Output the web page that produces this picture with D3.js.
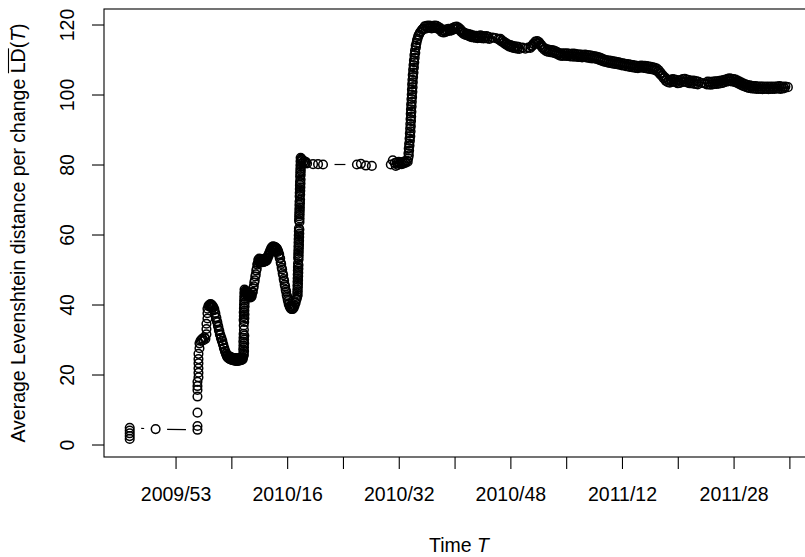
<!DOCTYPE html>
<html>
<head>
<meta charset="utf-8">
<script src="https://cdn.jsdelivr.net/npm/d3@7"></script>
<style>
  body { margin: 0; background: #fff; }
  svg text { font-family: "Liberation Sans", Arial, Helvetica, sans-serif; font-size: 19.5px; fill: #000; }
</style>
</head>
<body>
<svg id="chart" width="805" height="557"></svg>
<script>
// T is counted in days from the start of week 2009/53
const tickDays   = [0, 56, 112, 168, 224, 280, 336, 392, 448, 504, 560, 616];
const tickLabels = ["2009/53", "", "2010/16", "", "2010/32", "", "2010/48", "", "2011/12", "", "2011/28", ""];
const yTicks     = [0, 20, 40, 60, 80, 100, 120];

// sparse readings as [day, average LD]
const firstWeeks = [
  [-46, 1.6], [-46, 2.4], [-46, 3.2], [-46, 4.0], [-46, 4.8],
  [-20, 4.4],
  [22, 4.2], [22, 5.3], [22, 9.1], [22, 13.7], [22, 15.6], [22, 16.7], [22, 17.9], [23, 19.2], [23, 20.5],
  [23, 21.8], [23, 23.2], [23, 24.4], [23, 25.9], [24, 27.5], [24, 28.9],
  [25, 29.6], [26, 29.9], [27, 30.3], [28, 29.8], [29, 30.6], [30, 30.2],
  [31, 31.5], [31, 33.0], [31, 34.5], [32, 36.0], [32, 37.5], [32, 38.8], [33, 39.6]
];

// half-day readings: first value belongs to the start day
const dipStart = 34;
const dipLD = [
  39.9, 39.3, 40.1, 39.5, 40.0, 39.2, 39.7, 39.0, 39.3, 38.4,
  38.6, 37.6, 37.5, 36.4, 36.2, 35.2, 34.9, 34.0, 33.6, 32.7,
  32.4, 31.5, 31.3, 30.4, 30.5, 29.6, 29.6, 28.7, 28.5, 27.6,
  27.5, 26.7, 26.6, 25.9, 26.0, 25.2, 25.6, 24.8, 25.3, 24.6,
  25.2, 24.4, 25.0, 24.3, 24.9, 24.2, 24.8, 24.1, 24.7, 24.0,
  24.7, 24.0, 24.6, 23.9, 24.6, 23.9, 24.5, 23.9, 24.6, 24.0,
  24.6, 24.0, 24.7, 24.1, 24.8, 24.2, 24.8, 24.4
];

const climbA = [
  [67.8, 25.0], [68.6, 25.6], [68.0, 26.1], [68.8, 26.7], [67.9, 27.2], [68.7, 27.8], [68.1, 28.3], [68.9, 28.9],
  [68.0, 29.4], [68.8, 30.0], [68.2, 30.5], [69.0, 31.1], [68.3, 31.6], [68.6, 32.8], [68.4, 34.0], [68.9, 35.0],
  [68.3, 35.6], [69.1, 36.1], [68.5, 36.7], [69.2, 37.2], [68.4, 37.8], [69.1, 38.3], [68.6, 38.9], [69.3, 39.4],
  [68.7, 40.0], [69.4, 40.5], [68.8, 41.1], [69.5, 41.6], [68.9, 42.2], [69.6, 42.7], [69.0, 43.3], [69.7, 43.8],
  [69.2, 44.3]
];

const humpStart = 70;
const humpLD = [
  44.0, 43.2, 43.7, 42.9, 43.4, 42.6, 43.1, 42.3, 42.9, 42.1,
  42.7, 42.0, 42.8, 42.4, 43.4, 43.6, 44.6, 45.2, 46.3, 46.9,
  48.0, 48.6, 49.7, 50.3, 51.4, 51.8, 52.8, 52.2, 53.1, 52.3,
  53.0, 52.2, 53.0, 52.2, 52.9, 52.1, 53.0, 52.2, 53.0, 52.3,
  53.1, 52.4, 53.2, 52.6, 53.5, 53.3, 54.1, 54.0, 54.8, 54.7,
  55.5, 55.3, 56.1, 55.7, 56.5, 55.8, 56.6, 55.9, 56.5, 55.8,
  56.4, 55.6, 56.2, 55.4, 55.9, 55.0, 55.3, 54.3, 54.4, 53.3,
  53.2, 52.0, 51.6, 50.5, 50.0, 48.9, 48.4, 47.3, 46.8, 45.7,
  45.2, 44.2, 43.7, 42.7, 42.3, 41.4, 41.0, 40.2, 40.1, 39.4,
  39.6, 38.9, 39.4, 38.7, 39.3, 38.7, 39.4, 39.0, 39.8, 39.7,
  40.6, 40.5, 41.4, 41.6
];

const climbB = [
  [122.0, 42.2], [122.6, 42.7], [122.1, 43.3], [122.7, 43.8], [122.2, 44.3], [122.8, 44.9], [122.3, 45.4],
  [122.9, 45.9], [122.4, 46.5], [123.0, 47.0], [122.5, 47.5], [123.1, 48.1], [122.6, 48.6], [123.2, 49.1],
  [122.7, 49.7], [123.3, 50.2], [122.8, 50.7], [123.4, 51.3], [122.9, 51.8], [123.5, 52.9], [123.0, 53.4],
  [123.6, 53.9], [123.1, 54.5], [123.7, 55.0], [123.2, 55.5], [123.8, 56.1], [123.3, 56.6], [123.9, 57.1],
  [123.4, 57.7], [124.0, 58.2], [123.5, 58.7], [124.1, 59.3], [123.6, 59.8], [124.2, 60.3], [123.7, 60.9],
  [124.3, 61.4], [123.8, 61.8], [124.4, 63.6], [123.9, 64.1], [124.5, 64.6], [124.0, 65.2], [124.6, 65.7],
  [124.1, 66.2], [124.7, 66.8], [124.2, 67.3], [124.8, 67.8], [124.3, 68.4], [124.9, 68.9], [124.4, 69.4],
  [125.0, 70.0], [124.5, 70.9], [125.1, 71.4], [124.6, 71.9], [125.2, 72.5], [124.7, 73.0], [125.3, 73.5],
  [124.8, 74.1], [125.4, 74.6], [124.9, 75.1], [125.5, 75.7], [125.0, 76.6], [125.6, 77.1], [125.1, 77.7],
  [125.7, 78.2], [125.2, 78.7], [125.8, 79.3], [125.3, 79.8], [125.9, 80.3], [125.4, 80.9], [126.0, 81.4],
  [125.5, 81.9], [126.3, 81.7],
  [127, 81.2], [128, 80.6], [129, 81.0], [130, 80.4], [131, 80.7], [132, 80.3],
  [138, 80.1], [143, 80.1], [148, 80.0],
  [182, 80.0], [186, 80.2], [191, 79.7], [197, 79.6],
  [216, 80.0], [218, 81.2], [220, 80.4], [221, 79.6], [222, 80.6], [223, 79.9], [224, 80.8], [225, 80.2],
  [226, 80.7], [227, 80.1], [228, 80.6], [229, 80.3], [230, 80.9], [231, 80.5], [232, 81.1], [233, 80.8]
];

const climbC = [
  [233.5, 81.8], [234.1, 82.6], [233.7, 83.2], [234.4, 84.0], [234.0, 84.6], [234.8, 85.4], [234.4, 86.0],
  [235.2, 86.8], [234.8, 87.4], [235.6, 88.1], [235.1, 88.9], [235.9, 89.5], [235.4, 90.3], [236.1, 90.9],
  [235.6, 91.6], [236.3, 92.4], [235.8, 93.0], [236.5, 93.7], [236.0, 94.5], [236.7, 95.1], [236.2, 95.8],
  [236.9, 96.6], [236.4, 97.2], [237.1, 97.9], [236.7, 98.7], [237.4, 99.3], [237.0, 100.0], [237.7, 100.8],
  [237.2, 101.4], [237.9, 102.1], [237.4, 102.9], [238.1, 103.5], [237.7, 104.2], [238.4, 105.0], [238.0, 105.6],
  [238.8, 106.3], [238.4, 107.1], [239.2, 107.7], [238.8, 108.4], [239.6, 109.2], [239.2, 109.8], [240.0, 110.5],
  [239.7, 111.3], [240.6, 111.9], [240.3, 112.6], [241.2, 113.4], [241.0, 114.0], [241.8, 114.7], [242.3, 115.5],
  [242.9, 116.0], [243.5, 116.7], [244.3, 117.1], [245.2, 117.7], [246.2, 118.0], [247.2, 118.5], [248.2, 118.7]
];

// daily readings from here on
const peakStart = 249;
const peakLD = [
  118.9, 119.5, 118.8, 119.6, 119.0, 119.7, 119.1, 119.6, 118.9, 119.5,
  119.0, 119.7, 119.1, 119.6, 118.8, 119.3, 118.5, 118.9, 117.9, 118.3,
  117.7, 118.2, 117.9, 118.6, 118.1, 118.8, 118.2, 118.7, 118.3, 119.0,
  118.6, 119.3, 118.8, 119.4, 118.9, 119.1, 118.4, 118.6, 117.8, 118.0,
  117.3, 117.6, 117.0, 117.4, 116.9, 117.3, 116.6, 117.1, 116.4, 116.9,
  116.3, 116.8, 116.2, 116.8, 116.1, 116.7, 116.2, 116.9, 116.1, 116.7,
  116.0, 116.6, 116.1, 116.7, 116.0, 116.5, 115.9
];

const sparse2010 = [[318, 116.3], [321, 116.1], [324, 115.9]];

const fallStart = 325;
const fallLD = [
  115.6, 115.9, 115.2, 115.4, 114.8, 115.0, 114.4, 114.6, 114.0, 114.3,
  113.7, 114.1, 113.5, 113.9, 113.3, 113.8, 113.2, 113.7, 113.1, 113.6,
  113.0
];

const sparseDec2010 = [[348, 113.4], [351, 113.1], [354, 113.4]];

const winterStart = 356;
const winterLD = [
  113.3, 113.8, 113.9, 114.5, 114.4, 115.1, 114.7, 115.3, 114.6, 114.9,
  114.1, 114.2, 113.4, 113.5, 112.8, 113.1, 112.4, 112.9, 112.2, 112.8,
  112.1, 112.7, 112.0, 112.6, 111.9, 112.4, 111.7, 112.1, 111.4, 111.8,
  111.1, 111.7, 111.0, 111.8, 111.1, 111.7, 111.0, 111.8, 111.0, 111.6,
  110.9, 111.6, 110.9, 111.7, 110.8, 111.6, 110.9, 111.5, 110.7, 111.4,
  110.7, 111.4, 110.6, 111.3, 110.7, 111.4, 110.6, 111.3, 110.5, 111.2,
  110.4, 111.1, 110.3, 111.0, 110.4, 110.9, 110.2, 110.8, 110.0, 110.6,
  109.8, 110.4, 109.6, 110.1, 109.4, 109.9, 109.3, 109.8, 109.1, 109.7,
  109.0, 109.6, 108.9, 109.5, 108.8, 109.4, 108.7, 109.3, 108.6, 109.2,
  108.5, 109.0, 108.3, 108.9, 108.3, 108.8, 108.1, 108.7, 108.0, 108.6,
  107.9, 108.5, 107.8, 108.4, 107.7, 108.3, 107.6, 108.2, 107.5, 108.1,
  107.7, 108.3, 107.7, 108.2, 107.6, 108.2, 107.5, 108.1, 107.4, 108.0,
  107.3, 107.9, 107.2, 107.8, 107.1, 107.6, 106.9, 107.4, 106.5, 106.9,
  105.9, 106.2, 105.3, 105.5, 104.6, 104.9, 103.9, 104.4, 103.5, 104.1,
  103.4, 104.2, 103.6, 104.4, 103.7, 104.3, 103.5, 104.1, 103.2, 103.9,
  103.3, 104.1, 103.5, 104.4, 103.7, 104.5, 103.6, 104.3, 103.4, 104.1,
  103.2, 103.9, 103.2, 104.0, 103.1, 103.9, 103.0, 103.8, 102.9, 103.6
];

const sparse2011 = [[528, 103.3], [531, 103.2]];

const tailStart = 533;
const tailLD = [
  102.9, 103.7, 102.9, 103.6, 102.8, 103.6, 102.9, 103.7, 103.0, 103.8,
  103.0, 103.8, 103.1, 103.9, 103.2, 104.0, 103.3, 104.1, 103.5, 104.3,
  103.7, 104.5, 103.8, 104.6, 103.8, 104.5, 103.7, 104.4, 103.6, 104.3,
  103.4, 104.0, 103.1, 103.7, 102.8, 103.4, 102.5, 103.1, 102.3, 102.9,
  102.1, 102.7, 101.9, 102.6, 101.8, 102.5, 101.7, 102.4, 101.7, 102.4,
  101.6, 102.3, 101.6, 102.3, 101.6, 102.3, 101.5, 102.3, 101.6, 102.2,
  101.6, 102.3, 101.5, 102.2, 101.6, 102.3, 101.6, 102.2, 101.6, 102.3,
  101.7, 102.3, 101.7, 102.4, 101.6, 102.3, 101.7, 102.2, 101.8, 102.3
];

const lastReading = [[614.5, 102.1]];

const regular = (start, step, values) => values.map((v, i) => [start + i * step, v]);

const series = [].concat(
    firstWeeks, regular(dipStart, 0.5, dipLD), climbA, regular(humpStart, 0.5, humpLD), climbB, climbC,
    regular(peakStart, 1, peakLD), sparse2010, regular(fallStart, 1, fallLD), sparseDec2010,
    regular(winterStart, 1, winterLD), sparse2011, regular(tailStart, 1, tailLD), lastReading);

// plot region (right edge runs past the window, as in the original)
const plotL = 104, plotR = 814, plotT = 9, plotB = 457;

const svg = d3.select("#chart");

const x = d3.scaleLinear().domain([-71.8, 640.7]).range([plotL, plotR]);
const y = d3.scaleLinear().domain([-3.57, 124.43]).range([plotB, plotT]);

// type = "b": segments between points, with a gap around each symbol
const gap = 11.5;
const segs = [];
for (let i = 1; i < series.length; i++) {
    const x0 = x(series[i - 1][0]), y0 = y(series[i - 1][1]);
    const x1 = x(series[i][0]), y1 = y(series[i][1]);
    const d = Math.hypot(x1 - x0, y1 - y0);
    if (d > 2 * gap) {
        const ux = (x1 - x0) / d, uy = (y1 - y0) / d;
        segs.push([x0 + ux * gap, y0 + uy * gap, x1 - ux * gap, y1 - uy * gap]);
    }
}

svg.append("g")
    .selectAll("line")
    .data(segs)
    .join("line")
    .attr("x1", d => d[0]).attr("y1", d => d[1])
    .attr("x2", d => d[2]).attr("y2", d => d[3])
    .attr("stroke", "#000")
    .attr("stroke-width", 1.2);

svg.append("g")
    .selectAll("circle")
    .data(series)
    .join("circle")
    .attr("cx", d => x(d[0]))
    .attr("cy", d => y(d[1]))
    .attr("r", 4.3)
    .attr("fill", "none")
    .attr("stroke", "#000")
    .attr("stroke-width", 1.5);

// box
svg.append("rect")
    .attr("x", plotL).attr("y", plotT)
    .attr("width", plotR - plotL).attr("height", plotB - plotT)
    .attr("fill", "none")
    .attr("stroke", "#000")
    .attr("stroke-width", 1.1);

const xAxis = svg.append("g")
    .attr("transform", `translate(0,${plotB})`)
    .call(d3.axisBottom(x).tickValues(tickDays).tickFormat((d, i) => tickLabels[i]).tickSize(12));
xAxis.select(".domain").remove();
xAxis.selectAll("line").attr("stroke", "#000").attr("stroke-width", 1.1);
xAxis.selectAll("text").attr("y", 44).attr("dy", null);
xAxis.attr("font-size", null).attr("font-family", null);

const yAxis = svg.append("g")
    .attr("transform", `translate(${plotL},0)`)
    .call(d3.axisLeft(y).tickValues(yTicks).tickSize(12));
yAxis.select(".domain").remove();
yAxis.selectAll("line").attr("stroke", "#000").attr("stroke-width", 1.1);
yAxis.selectAll("text")
    .attr("x", 0).attr("dy", null)
    .attr("text-anchor", "middle")
    .attr("transform", "translate(-30,0) rotate(-90)");
yAxis.attr("font-size", null).attr("font-family", null);

// axis titles
const xTitle = svg.append("text")
    .attr("x", (plotL + plotR) / 2)
    .attr("y", 552)
    .attr("text-anchor", "middle");
xTitle.append("tspan").text("Time ");
xTitle.append("tspan").attr("font-style", "italic").text("T");

const yTitleG = svg.append("g")
    .attr("transform", `translate(25,${(plotT + plotB) / 2}) rotate(-90)`);
const yTitle = yTitleG.append("text").attr("text-anchor", "middle");
const pre = "Average Levenshtein distance per change ";
yTitle.append("tspan").text(pre);
yTitle.append("tspan").text("LD");
yTitle.append("tspan").text("(");
yTitle.append("tspan").attr("font-style", "italic").text("T");
yTitle.append("tspan").text(")");

// overline on LD
const node = yTitle.node();
const total = node.getComputedTextLength();
const startLD = node.getSubStringLength(0, pre.length);
const lenLD = node.getSubStringLength(pre.length, 2);
yTitleG.append("line")
    .attr("x1", -total / 2 + startLD).attr("x2", -total / 2 + startLD + lenLD)
    .attr("y1", -16.5).attr("y2", -16.5)
    .attr("stroke", "#000")
    .attr("stroke-width", 1.1);
</script>
</body>
</html>
